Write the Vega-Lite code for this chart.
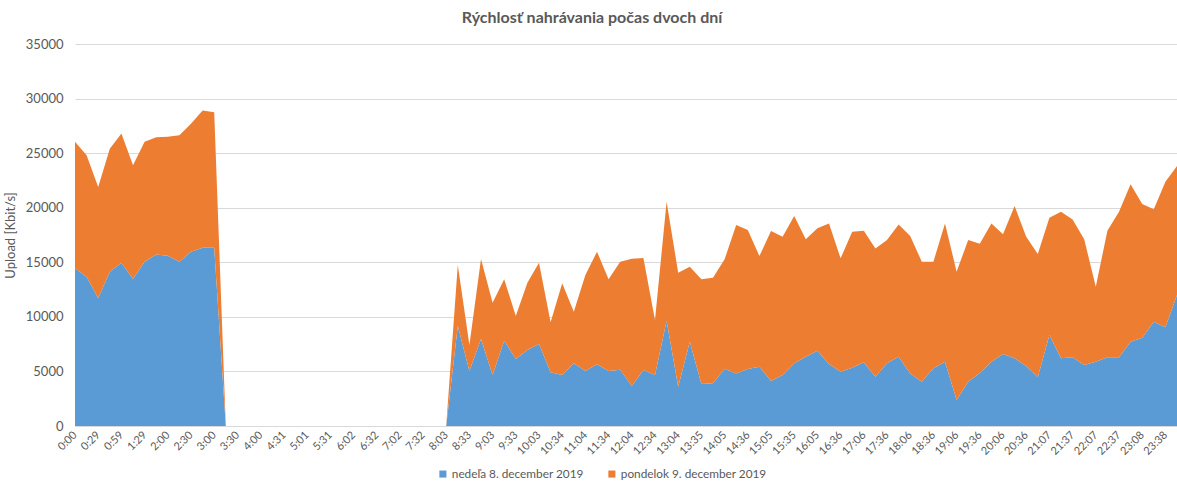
{
"$schema": "https://vega.github.io/schema/vega-lite/v6.json",
"width": 1102, "height": 382,
"autosize": {"type": "none"},
"padding": {"left": 75, "top": 44, "right": 0, "bottom": 57},
"background": "white",
"title": {"text": "Rýchlosť nahrávania počas dvoch dní", "font": "Lato", "fontSize": 16, "fontWeight": "bold", "color": "#595959", "anchor": "middle", "dx": -34, "offset": 12},
"data": {"values": [
{"cas":"0:00","den":"nedeľa 8. december 2019","v":14450},
{"cas":"0:14","den":"nedeľa 8. december 2019","v":13680},
{"cas":"0:29","den":"nedeľa 8. december 2019","v":11700},
{"cas":"0:44","den":"nedeľa 8. december 2019","v":14140},
{"cas":"0:59","den":"nedeľa 8. december 2019","v":14960},
{"cas":"1:14","den":"nedeľa 8. december 2019","v":13470},
{"cas":"1:29","den":"nedeľa 8. december 2019","v":15050},
{"cas":"1:44","den":"nedeľa 8. december 2019","v":15720},
{"cas":"2:00","den":"nedeľa 8. december 2019","v":15600},
{"cas":"2:15","den":"nedeľa 8. december 2019","v":15050},
{"cas":"2:30","den":"nedeľa 8. december 2019","v":15970},
{"cas":"2:45","den":"nedeľa 8. december 2019","v":16330},
{"cas":"3:00","den":"nedeľa 8. december 2019","v":16330},
{"cas":"3:15","den":"nedeľa 8. december 2019","v":0},
{"cas":"3:30","den":"nedeľa 8. december 2019","v":0},
{"cas":"3:45","den":"nedeľa 8. december 2019","v":0},
{"cas":"4:00","den":"nedeľa 8. december 2019","v":0},
{"cas":"4:15","den":"nedeľa 8. december 2019","v":0},
{"cas":"4:31","den":"nedeľa 8. december 2019","v":0},
{"cas":"4:46","den":"nedeľa 8. december 2019","v":0},
{"cas":"5:01","den":"nedeľa 8. december 2019","v":0},
{"cas":"5:16","den":"nedeľa 8. december 2019","v":0},
{"cas":"5:31","den":"nedeľa 8. december 2019","v":0},
{"cas":"5:46","den":"nedeľa 8. december 2019","v":0},
{"cas":"6:02","den":"nedeľa 8. december 2019","v":0},
{"cas":"6:17","den":"nedeľa 8. december 2019","v":0},
{"cas":"6:32","den":"nedeľa 8. december 2019","v":0},
{"cas":"6:47","den":"nedeľa 8. december 2019","v":0},
{"cas":"7:02","den":"nedeľa 8. december 2019","v":0},
{"cas":"7:17","den":"nedeľa 8. december 2019","v":0},
{"cas":"7:32","den":"nedeľa 8. december 2019","v":0},
{"cas":"7:47","den":"nedeľa 8. december 2019","v":0},
{"cas":"8:03","den":"nedeľa 8. december 2019","v":0},
{"cas":"8:18","den":"nedeľa 8. december 2019","v":9160},
{"cas":"8:33","den":"nedeľa 8. december 2019","v":5040},
{"cas":"8:48","den":"nedeľa 8. december 2019","v":7970},
{"cas":"9:03","den":"nedeľa 8. december 2019","v":4670},
{"cas":"9:18","den":"nedeľa 8. december 2019","v":7820},
{"cas":"9:33","den":"nedeľa 8. december 2019","v":6140},
{"cas":"9:48","den":"nedeľa 8. december 2019","v":6960},
{"cas":"10:03","den":"nedeľa 8. december 2019","v":7510},
{"cas":"10:18","den":"nedeľa 8. december 2019","v":4920},
{"cas":"10:34","den":"nedeľa 8. december 2019","v":4670},
{"cas":"10:49","den":"nedeľa 8. december 2019","v":5740},
{"cas":"11:04","den":"nedeľa 8. december 2019","v":5040},
{"cas":"11:19","den":"nedeľa 8. december 2019","v":5650},
{"cas":"11:34","den":"nedeľa 8. december 2019","v":5040},
{"cas":"11:49","den":"nedeľa 8. december 2019","v":5160},
{"cas":"12:04","den":"nedeľa 8. december 2019","v":3660},
{"cas":"12:19","den":"nedeľa 8. december 2019","v":5130},
{"cas":"12:34","den":"nedeľa 8. december 2019","v":4670},
{"cas":"12:49","den":"nedeľa 8. december 2019","v":9650},
{"cas":"13:04","den":"nedeľa 8. december 2019","v":3600},
{"cas":"13:19","den":"nedeľa 8. december 2019","v":7730},
{"cas":"13:35","den":"nedeľa 8. december 2019","v":3850},
{"cas":"13:50","den":"nedeľa 8. december 2019","v":3910},
{"cas":"14:05","den":"nedeľa 8. december 2019","v":5250},
{"cas":"14:20","den":"nedeľa 8. december 2019","v":4820},
{"cas":"14:36","den":"nedeľa 8. december 2019","v":5220},
{"cas":"14:51","den":"nedeľa 8. december 2019","v":5440},
{"cas":"15:05","den":"nedeľa 8. december 2019","v":4120},
{"cas":"15:20","den":"nedeľa 8. december 2019","v":4670},
{"cas":"15:35","den":"nedeľa 8. december 2019","v":5740},
{"cas":"15:50","den":"nedeľa 8. december 2019","v":6350},
{"cas":"16:05","den":"nedeľa 8. december 2019","v":6900},
{"cas":"16:20","den":"nedeľa 8. december 2019","v":5680},
{"cas":"16:36","den":"nedeľa 8. december 2019","v":4980},
{"cas":"16:51","den":"nedeľa 8. december 2019","v":5340},
{"cas":"17:06","den":"nedeľa 8. december 2019","v":5830},
{"cas":"17:21","den":"nedeľa 8. december 2019","v":4520},
{"cas":"17:36","den":"nedeľa 8. december 2019","v":5740},
{"cas":"17:51","den":"nedeľa 8. december 2019","v":6350},
{"cas":"18:06","den":"nedeľa 8. december 2019","v":4820},
{"cas":"18:21","den":"nedeľa 8. december 2019","v":4060},
{"cas":"18:36","den":"nedeľa 8. december 2019","v":5280},
{"cas":"18:51","den":"nedeľa 8. december 2019","v":5890},
{"cas":"19:06","den":"nedeľa 8. december 2019","v":2380},
{"cas":"19:21","den":"nedeľa 8. december 2019","v":4060},
{"cas":"19:36","den":"nedeľa 8. december 2019","v":4850},
{"cas":"19:51","den":"nedeľa 8. december 2019","v":5890},
{"cas":"20:06","den":"nedeľa 8. december 2019","v":6600},
{"cas":"20:21","den":"nedeľa 8. december 2019","v":6200},
{"cas":"20:36","den":"nedeľa 8. december 2019","v":5500},
{"cas":"20:51","den":"nedeľa 8. december 2019","v":4460},
{"cas":"21:07","den":"nedeľa 8. december 2019","v":8340},
{"cas":"21:22","den":"nedeľa 8. december 2019","v":6200},
{"cas":"21:37","den":"nedeľa 8. december 2019","v":6290},
{"cas":"21:52","den":"nedeľa 8. december 2019","v":5590},
{"cas":"22:07","den":"nedeľa 8. december 2019","v":5890},
{"cas":"22:22","den":"nedeľa 8. december 2019","v":6290},
{"cas":"22:37","den":"nedeľa 8. december 2019","v":6290},
{"cas":"22:52","den":"nedeľa 8. december 2019","v":7730},
{"cas":"23:08","den":"nedeľa 8. december 2019","v":8090},
{"cas":"23:23","den":"nedeľa 8. december 2019","v":9560},
{"cas":"23:38","den":"nedeľa 8. december 2019","v":9040},
{"cas":"23:53","den":"nedeľa 8. december 2019","v":12000},
{"cas":"0:00","den":"pondelok 9. december 2019","v":11600},
{"cas":"0:14","den":"pondelok 9. december 2019","v":11120},
{"cas":"0:29","den":"pondelok 9. december 2019","v":10200},
{"cas":"0:44","den":"pondelok 9. december 2019","v":11260},
{"cas":"0:59","den":"pondelok 9. december 2019","v":11840},
{"cas":"1:14","den":"pondelok 9. december 2019","v":10430},
{"cas":"1:29","den":"pondelok 9. december 2019","v":11000},
{"cas":"1:44","den":"pondelok 9. december 2019","v":10730},
{"cas":"2:00","den":"pondelok 9. december 2019","v":10900},
{"cas":"2:15","den":"pondelok 9. december 2019","v":11600},
{"cas":"2:30","den":"pondelok 9. december 2019","v":11730},
{"cas":"2:45","den":"pondelok 9. december 2019","v":12570},
{"cas":"3:00","den":"pondelok 9. december 2019","v":12420},
{"cas":"3:15","den":"pondelok 9. december 2019","v":0},
{"cas":"3:30","den":"pondelok 9. december 2019","v":0},
{"cas":"3:45","den":"pondelok 9. december 2019","v":0},
{"cas":"4:00","den":"pondelok 9. december 2019","v":0},
{"cas":"4:15","den":"pondelok 9. december 2019","v":0},
{"cas":"4:31","den":"pondelok 9. december 2019","v":0},
{"cas":"4:46","den":"pondelok 9. december 2019","v":0},
{"cas":"5:01","den":"pondelok 9. december 2019","v":0},
{"cas":"5:16","den":"pondelok 9. december 2019","v":0},
{"cas":"5:31","den":"pondelok 9. december 2019","v":0},
{"cas":"5:46","den":"pondelok 9. december 2019","v":0},
{"cas":"6:02","den":"pondelok 9. december 2019","v":0},
{"cas":"6:17","den":"pondelok 9. december 2019","v":0},
{"cas":"6:32","den":"pondelok 9. december 2019","v":0},
{"cas":"6:47","den":"pondelok 9. december 2019","v":0},
{"cas":"7:02","den":"pondelok 9. december 2019","v":0},
{"cas":"7:17","den":"pondelok 9. december 2019","v":0},
{"cas":"7:32","den":"pondelok 9. december 2019","v":0},
{"cas":"7:47","den":"pondelok 9. december 2019","v":0},
{"cas":"8:03","den":"pondelok 9. december 2019","v":0},
{"cas":"8:18","den":"pondelok 9. december 2019","v":5590},
{"cas":"8:33","den":"pondelok 9. december 2019","v":2380},
{"cas":"8:48","den":"pondelok 9. december 2019","v":7330},
{"cas":"9:03","den":"pondelok 9. december 2019","v":6630},
{"cas":"9:18","den":"pondelok 9. december 2019","v":5620},
{"cas":"9:33","den":"pondelok 9. december 2019","v":3940},
{"cas":"9:48","den":"pondelok 9. december 2019","v":6170},
{"cas":"10:03","den":"pondelok 9. december 2019","v":7450},
{"cas":"10:18","den":"pondelok 9. december 2019","v":4580},
{"cas":"10:34","den":"pondelok 9. december 2019","v":8400},
{"cas":"10:49","den":"pondelok 9. december 2019","v":4730},
{"cas":"11:04","den":"pondelok 9. december 2019","v":8790},
{"cas":"11:19","den":"pondelok 9. december 2019","v":10320},
{"cas":"11:34","den":"pondelok 9. december 2019","v":8400},
{"cas":"11:49","den":"pondelok 9. december 2019","v":9890},
{"cas":"12:04","den":"pondelok 9. december 2019","v":11670},
{"cas":"12:19","den":"pondelok 9. december 2019","v":10260},
{"cas":"12:34","den":"pondelok 9. december 2019","v":5040},
{"cas":"12:49","den":"pondelok 9. december 2019","v":10900},
{"cas":"13:04","den":"pondelok 9. december 2019","v":10440},
{"cas":"13:19","den":"pondelok 9. december 2019","v":6860},
{"cas":"13:35","den":"pondelok 9. december 2019","v":9590},
{"cas":"13:50","den":"pondelok 9. december 2019","v":9670},
{"cas":"14:05","den":"pondelok 9. december 2019","v":10020},
{"cas":"14:20","den":"pondelok 9. december 2019","v":13590},
{"cas":"14:36","den":"pondelok 9. december 2019","v":12730},
{"cas":"14:51","den":"pondelok 9. december 2019","v":10130},
{"cas":"15:05","den":"pondelok 9. december 2019","v":13740},
{"cas":"15:20","den":"pondelok 9. december 2019","v":12670},
{"cas":"15:35","den":"pondelok 9. december 2019","v":13500},
{"cas":"15:50","den":"pondelok 9. december 2019","v":10750},
{"cas":"16:05","den":"pondelok 9. december 2019","v":11210},
{"cas":"16:20","den":"pondelok 9. december 2019","v":12880},
{"cas":"16:36","den":"pondelok 9. december 2019","v":10380},
{"cas":"16:51","den":"pondelok 9. december 2019","v":12460},
{"cas":"17:06","den":"pondelok 9. december 2019","v":12060},
{"cas":"17:21","den":"pondelok 9. december 2019","v":11750},
{"cas":"17:36","den":"pondelok 9. december 2019","v":11300},
{"cas":"17:51","den":"pondelok 9. december 2019","v":12120},
{"cas":"18:06","den":"pondelok 9. december 2019","v":12580},
{"cas":"18:21","den":"pondelok 9. december 2019","v":10990},
{"cas":"18:36","den":"pondelok 9. december 2019","v":9770},
{"cas":"18:51","den":"pondelok 9. december 2019","v":12670},
{"cas":"19:06","den":"pondelok 9. december 2019","v":11760},
{"cas":"19:21","den":"pondelok 9. december 2019","v":12980},
{"cas":"19:36","den":"pondelok 9. december 2019","v":11850},
{"cas":"19:51","den":"pondelok 9. december 2019","v":12670},
{"cas":"20:06","den":"pondelok 9. december 2019","v":10960},
{"cas":"20:21","den":"pondelok 9. december 2019","v":13950},
{"cas":"20:36","den":"pondelok 9. december 2019","v":11840},
{"cas":"20:51","den":"pondelok 9. december 2019","v":11300},
{"cas":"21:07","den":"pondelok 9. december 2019","v":10740},
{"cas":"21:22","den":"pondelok 9. december 2019","v":13430},
{"cas":"21:37","den":"pondelok 9. december 2019","v":12640},
{"cas":"21:52","den":"pondelok 9. december 2019","v":11510},
{"cas":"22:07","den":"pondelok 9. december 2019","v":6870},
{"cas":"22:22","den":"pondelok 9. december 2019","v":11600},
{"cas":"22:37","den":"pondelok 9. december 2019","v":13340},
{"cas":"22:52","den":"pondelok 9. december 2019","v":14410},
{"cas":"23:08","den":"pondelok 9. december 2019","v":12250},
{"cas":"23:23","den":"pondelok 9. december 2019","v":10290},
{"cas":"23:38","den":"pondelok 9. december 2019","v":13340},
{"cas":"23:53","den":"pondelok 9. december 2019","v":11820}
]},
"mark": {"type": "area", "opacity": 1},
"encoding": {
  "x": {"field": "cas", "type": "ordinal", "sort": null,
        "scale": {"type": "point", "padding": 0},
        "axis": {"values": ["0:00","0:29","0:59","1:29","2:00","2:30","3:00","3:30","4:00","4:31","5:01","5:31","6:02","6:32","7:02","7:32","8:03","8:33","9:03","9:33","10:03","10:34","11:04","11:34","12:04","12:34","13:04","13:35","14:05","14:36","15:05","15:35","16:05","16:36","17:06","17:36","18:06","18:36","19:06","19:36","20:06","20:36","21:07","21:37","22:07","22:37","23:08","23:38"],
                 "title": null, "labelAngle": -45, "labelAlign": "right", "labelBaseline": "middle",
                 "labelFont": "Lato", "labelFontSize": 11, "labelColor": "#595959",
                 "ticks": false, "grid": false, "domainColor": "#D9D9D9", "labelPadding": 7, "labelOverlap": false}},
  "y": {"field": "v", "type": "quantitative", "stack": "zero",
        "scale": {"domain": [0, 35000], "nice": false},
        "axis": {"values": [0,5000,10000,15000,20000,25000,30000,35000], "format": "d",
                 "title": "Upload [Kbit/s]", "titleFont": "Lato", "titleFontSize": 13, "titleFontWeight": "normal", "titleColor": "#595959",
                 "labelFont": "Lato", "labelFontSize": 13, "labelColor": "#595959",
                 "domain": false, "ticks": false, "gridColor": "#D9D9D9", "labelPadding": 12, "titlePadding": 8}},
  "color": {"field": "den", "type": "nominal",
            "scale": {"domain": ["nedeľa 8. december 2019", "pondelok 9. december 2019"], "range": ["#5B9BD5", "#ED7D31"]},
            "legend": {"title": null, "orient": "none", "direction": "horizontal", "legendX": 362, "legendY": 424,
                       "symbolType": "square", "symbolSize": 50, "symbolStrokeWidth": 0,
                       "labelFont": "Lato", "labelFontSize": 11.8, "labelColor": "#595959", "columnPadding": 22, "labelOffset": 3}},
  "order": {"field": "den", "type": "nominal", "sort": "ascending"}
},
"config": {"view": {"stroke": null}}
}
